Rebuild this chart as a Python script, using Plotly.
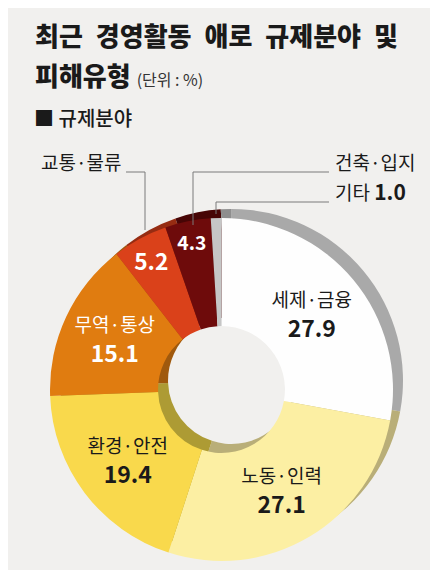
import plotly.graph_objects as go

# 규제분야 데이터 (단위 : %)
categories = ["세제·금융", "노동·인력", "환경·안전", "무역·통상", "교통·물류", "건축·입지", "기타"]
values = [27.9, 27.1, 19.4, 15.1, 5.2, 4.3, 1.0]
outside_labels = ["교통·물류", "건축·입지", "기타"]

# 색상 (앞면 / 두께 그림자)
front_colors = ["#fefefe", "#fcefa3", "#f9d94c", "#e07c10", "#da411a", "#6e0b0b", "#c6c6c6"]
back_colors = ["#a9a9a9", "#b9ae78", "#ad9b34", "#a0590d", "#962c12", "#470505", "#8e8e8e"]
text_colors = ["#1a1a1a", "#1a1a1a", "#1a1a1a", "#ffffff", "#ffffff", "#ffffff", "#ffffff"]

W, H = 438, 570
FONT = "Noto Sans CJK KR"
bg = "#f1f0ee"
SP = "\u2002"


def px(x, y):
    # 픽셀 좌표 -> paper 좌표
    return x / W, 1 - y / H


templates = []
for c in categories:
    if c in ("교통·물류", "건축·입지"):
        templates.append("<b>%{value:.1f}</b>")
    elif c == "기타":
        templates.append("")
    else:
        templates.append("<span style='font-size:19px'>%{label}</span><br><b>%{value:.1f}</b>")

fig = go.Figure()

# 뒤쪽 (두께 효과)
bx0, by0 = px(52, 544)
bx1, by1 = px(395, 201)
fig.add_trace(go.Pie(
    labels=categories, values=values, sort=False, direction="clockwise", rotation=0,
    hole=0.37, marker=dict(colors=back_colors, line=dict(width=0)),
    textinfo="none", hoverinfo="skip", showlegend=False,
    domain=dict(x=[bx0, bx1], y=[by0, by1]),
))

# 앞면
fx0, fy0 = px(42, 553)
fx1, fy1 = px(385, 210)
fig.add_trace(go.Pie(
    labels=categories, values=values, sort=False, direction="clockwise", rotation=0,
    hole=0.37, marker=dict(colors=front_colors, line=dict(width=0)),
    texttemplate=templates, textposition="inside", insidetextorientation="horizontal",
    insidetextfont=dict(family=FONT, size=23, color=text_colors),
    showlegend=False,
    domain=dict(x=[fx0, fx1], y=[fy0, fy1]),
))

annotations = []


def note(text, x, y, size, anchor="left", color="#1a1a1a", weight="normal"):
    ax, ay = px(x, y)
    annotations.append(dict(text=text, x=ax, y=ay, xref="paper", yref="paper",
                            xanchor=anchor, yanchor="middle", showarrow=False,
                            font=dict(family=FONT, size=size, color=color, weight=weight)))


note(SP.join(["최근", "경영활동", "애로", "규제분야", "및"]), 25, 26, 26, weight=900)
note("피해유형 <span style='font-size:16px;color:#333;font-weight:400'>(단위 : %)</span>", 25, 66, 26, weight=900)
note("■ 규제분야", 24, 110, 20, weight=500)

note(outside_labels[0], 116, 154, 19, anchor="right")
note(outside_labels[1], 325, 154, 19)
note(outside_labels[2] + " <span style='font-size:21px'><b>%.1f</b></span>" % values[-1], 325, 183, 19)

# 지시선
shapes = []


def seg(x0, y0, x1, y1):
    a0, b0 = px(x0, y0)
    a1, b1 = px(x1, y1)
    shapes.append(dict(type="line", xref="paper", yref="paper", x0=a0, y0=b0, x1=a1, y1=b1,
                       line=dict(color="#7a7a7a", width=1)))


seg(118, 164, 137, 164)
seg(137, 164, 137, 222)
seg(185, 164, 321, 164)
seg(185, 164, 185, 217)
seg(208, 194, 321, 194)
seg(208, 194, 208, 206)

fig.update_layout(
    width=W, height=H,
    margin=dict(l=0, r=0, t=0, b=0),
    paper_bgcolor=bg, plot_bgcolor=bg,
    annotations=annotations, shapes=shapes,
    font=dict(family=FONT),
)

fig.write_html("out.html")
